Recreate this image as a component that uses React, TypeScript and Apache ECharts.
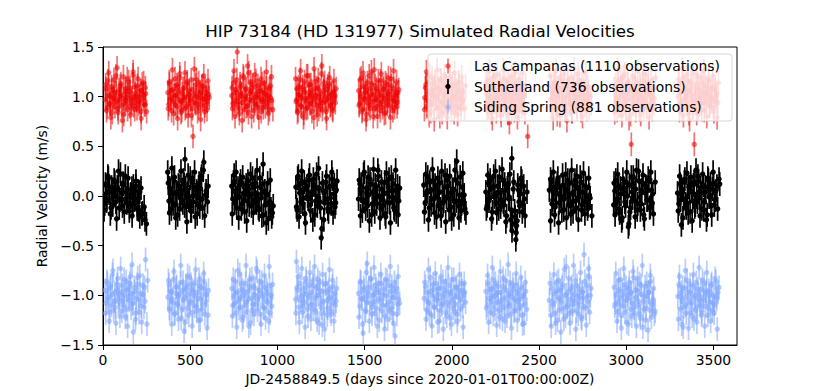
import React, { useEffect, useRef } from "react";
import * as echarts from "echarts";

// ---- data ----
const title = "HIP 73184 (HD 131977) Simulated Radial Velocities";
const xLabel = "JD-2458849.5 (days since 2020-01-01T00:00:00Z)";
const yLabel = "Radial Velocity (m/s)";
const xTicks = [0, 500, 1000, 1500, 2000, 2500, 3000, 3500];
const yTicks = [-1.5, -1.0, -0.5, 0.0, 0.5, 1.0, 1.5];
const seriesNames = [
  "Las Campanas (1110 observations)",
  "Sutherland (736 observations)",
  "Siding Spring (881 observations)",
];
// first day of each observing season (days)
const seasonStarts = [12, 370, 738, 1104, 1465, 1843, 2195, 2563, 2930, 3296];
// typical 1-sigma error bar of each site (m/s)
const siteErrors = [0.12, 0.12, 0.12];

// Las Campanas: day offset within season / velocity in cm/s (two batches)
const lcOffsets = [
  "1,5,13,17,26,29,37,41,50,53,62,65,73,80,83,91,95,104,107,116,119,127,131,140,143,151,158,161,170,173,182,185,194,197,206,209,218,221,230,233",
  "2,7,11,19,23,31,34,43,47,55,58,67,70,77,85,88,97,101,110,113,121,124,133,137,146,149,157,163,166,175,179,188,191,200,203,212,215,224,227,236",
  "0,4,10,15,22,27,32,39,44,49,56,61,68,72,79,86,90,97,103,108,114,120,127,132,139,144,150,157,162,169,174,180,186,193,198,205,210,216,223,229",
  "3,8,14,18,25,30,35,41,47,52,57,64,69,75,81,87,92,98,105,110,115,122,128,133,140,145,151,156,163,168,175,181,186,192,199,204,211,217,222,228",
  "1,6,12,16,23,28,34,40,45,51,58,62,69,74,80,85,92,96,103,109,114,121,126,131,138,143,150,155,161,167,172,179,185,190,197,202,208,215,221,226",
  "2,8,13,19,24,29,36,41,46,53,59,63,70,76,81,88,93,99,104,111,116,122,129,134,139,146,152,158,163,170,176,181,188,193,199,206,212,217,223,230",
  "0,5,11,17,22,28,33,40,46,50,57,63,67,74,79,86,91,97,102,108,115,119,126,132,137,144,149,155,161,166,173,178,185,190,196,203,208,214,221,240",
  "4,9,15,20,26,31,38,42,49,54,60,66,71,77,84,89,94,101,106,112,118,124,130,135,142,147,153,160,165,171,177,183,189,194,201,207,213,218,225,231",
  "1,7,12,18,25,30,36,43,47,53,59,65,72,76,83,88,95,99,104,109,116,121,127,134,138,145,151,156,163,169,174,181,186,192,198,205,210,217,222,228",
  "0,6,13,17,24,29,35,41,48,52,58,64,70,77,82,87,94,99,105,110,117,122,128,133,140,146,151,157,162,169,175,180,187,192,198,204,211,216,222,229",
];
const lcValues = [
  "97,108,89,116,101,93,110,84,99,104,121,95,88,107,100,113,91,98,82,105,96,118,102,90,109,94,99,125,87,103,96,111,92,100,85,106,98,114,92,103",
  "104,92,113,99,86,107,95,118,101,90,110,97,123,84,103,96,109,88,100,115,93,106,98,81,60,102,94,112,117,99,89,105,92,111,97,85,108,100,95,102",
  "101,88,114,96,107,92,145,99,83,110,103,94,119,87,100,108,91,124,97,105,80,112,98,93,116,102,89,106,99,85,113,95,104,90,109,97,101,87,111,96",
  "95,108,86,102,117,91,99,110,83,104,96,121,89,100,112,93,106,98,79,115,101,92,108,87,103,96,131,94,110,100,85,107,97,113,91,102,88,105,99,94",
  "106,93,100,119,87,110,97,104,82,114,99,91,108,125,95,102,88,111,97,80,105,93,116,101,89,107,98,84,112,96,103,91,118,99,86,108,95,101,90,104",
  "99,112,90,104,96,122,85,107,101,93,115,98,88,109,103,80,117,95,106,91,100,113,87,104,97,120,92,108,99,84,111,96,103,89,114,100,93,106,97,88",
  "103,94,117,89,108,99,84,111,96,121,102,90,106,97,114,86,100,109,92,118,98,105,83,113,95,101,88,110,97,124,91,104,99,87,112,95,106,93,101,60",
  "97,110,88,103,115,94,101,82,107,99,120,91,105,96,112,87,100,117,93,108,98,85,104,111,95,102,90,123,99,106,86,113,97,101,92,109,95,104,89,100",
  "108,95,101,86,116,99,91,110,104,120,93,100,88,113,97,106,82,52,109,95,102,118,90,105,98,87,111,100,94,123,96,107,89,103,114,92,101,97,108,93",
  "100,113,92,105,87,119,98,108,94,101,115,83,106,97,111,90,52,103,96,121,88,107,99,93,114,102,86,109,97,104,118,91,100,95,110,89,106,98,102,94",
];
const lcOffsetsB = [
  "3,8,15,21,27,33,39,45,51,57,64,69,75,81,87,93,99,105,112,117,123,129,135,141,147,153,160,165,171,177,183,189,196,201,207,213,219,225,231,238",
  "4,10,16,22,28,35,40,46,53,58,64,71,76,82,89,94,100,107,112,118,125,130,136,143,148,154,161,166,172,179,184,190,197,202,208,214,220,226,232,239",
  "2,7,13,19,25,30,37,43,48,55,60,66,73,78,84,91,96,102,109,114,120,127,132,138,145,150,156,163,168,174,181,186,192,199,204,210,216,222,228,236",
  "0,6,11,17,23,29,34,40,46,52,58,63,70,76,82,88,94,100,106,112,118,124,130,136,142,148,154,160,166,172,178,184,190,196,202,208,214,220,226,233",
  "3,9,14,20,26,32,38,43,49,55,61,67,72,78,84,90,95,101,107,113,119,125,131,136,142,148,154,160,166,171,177,183,189,195,201,206,212,218,224,231",
  "0,5,11,16,22,27,33,39,44,50,56,61,67,73,79,85,90,96,102,108,114,119,125,131,137,143,149,155,160,166,172,178,184,190,196,202,208,214,220,236",
  "2,8,14,20,25,31,37,43,48,54,60,65,71,77,83,88,94,100,105,111,117,123,129,135,140,146,152,158,164,170,175,181,187,193,199,205,211,217,224,230",
  "1,6,12,18,23,29,35,40,46,52,57,63,69,74,80,86,92,97,103,109,115,121,127,133,139,145,150,156,162,168,174,180,186,192,198,204,210,216,222,236",
  "4,10,15,21,28,33,39,45,50,56,62,68,74,80,86,91,101,107,113,118,124,130,136,141,147,153,159,165,171,177,183,189,195,201,207,213,219,225,231,238",
  "3,9,15,20,26,32,38,44,50,55,61,67,73,79,85,90,96,102,108,114,120,126,131,137,143,149,155,160,166,172,178,184,189,195,201,207,213,219,225,232",
];
const lcValuesB = [
  "112,86,101,124,93,79,107,98,117,90,104,129,84,96,111,102,76,120,93,108,99,87,115,105,82,97,122,91,110,100,88,118,95,106,78,113,102,92,109,85",
  "88,115,97,106,127,83,101,92,112,78,105,119,95,86,108,99,124,90,113,81,102,96,117,88,107,128,93,100,85,114,103,77,110,98,121,91,104,87,116,99",
  "109,93,126,80,104,117,95,88,113,101,76,121,98,107,90,131,84,103,115,96,109,86,122,100,92,111,79,105,118,97,89,114,102,125,94,83,108,99,120,87",
  "118,97,84,110,102,126,90,107,79,115,98,88,121,104,93,112,85,101,128,96,109,82,117,100,91,123,87,106,114,95,78,111,99,119,92,104,86,116,101,108",
  "91,117,103,85,124,98,110,77,106,94,121,88,102,113,80,127,97,108,90,116,101,86,123,95,109,83,114,100,92,119,105,79,111,96,126,89,103,115,94,107",
  "87,109,125,96,114,81,103,92,119,106,77,112,100,127,89,108,95,116,84,102,121,93,110,79,105,118,96,87,113,101,124,90,107,82,115,98,88,120,104,111",
  "114,88,101,126,93,109,78,118,97,105,85,122,100,91,112,81,107,127,95,103,89,116,99,74,110,120,94,106,86,113,101,79,117,96,108,90,124,102,84,111",
  "121,90,105,78,113,98,126,87,109,102,81,116,94,107,123,89,99,76,111,104,92,119,85,108,128,97,113,88,102,117,91,106,80,115,96,124,87,110,100,93",
  "84,112,97,127,90,105,118,81,109,96,123,88,103,115,78,107,99,121,92,111,86,104,126,95,113,82,100,117,89,106,122,93,110,79,102,116,87,108,98,119",
  "117,86,104,95,128,81,110,99,122,91,106,77,115,101,88,124,96,108,83,113,100,92,119,87,105,126,94,111,80,103,116,90,107,98,121,85,109,102,79,114",
];

// Sutherland
const suOffsets = [
  "-10,-2,5,10,19,25,34,40,47,56,62,70,77,85,94,100,107,116,122,129,139,145,154,160,169,176,184,192,199,211,224,237",
  "1,8,13,22,28,37,43,50,58,66,73,81,88,95,100,107,114,122,130,137,144,151,159,167,174,181,189,195,201,208,217,229",
  "0,6,14,21,29,36,44,51,59,68,74,83,89,97,104,113,119,128,134,141,149,157,165,173,180,186,194,202,210,218,225,233",
  "2,9,16,23,31,38,46,53,61,69,76,84,91,99,106,114,121,129,136,143,147,158,166,174,181,189,196,204,211,219,226,234",
  "0,8,14,22,29,38,45,51,59,66,75,83,89,96,104,111,119,128,134,141,150,156,164,171,179,188,194,203,210,216,224,231",
  "-4,4,12,19,27,35,42,50,58,65,73,80,88,96,103,111,118,126,134,141,149,156,164,172,179,185,194,202,209,217,224,232",
  "0,7,15,21,30,38,45,52,59,67,74,82,89,97,104,112,119,127,135,142,149,150,157,165,172,176,183,190,198,206,213,221",
  "-4,3,9,16,22,30,37,45,52,60,68,75,83,90,98,105,113,120,128,135,143,150,158,165,173,180,188,196,203,211,218,226",
  "-2,4,10,17,25,32,40,47,55,62,70,77,82,88,95,103,110,118,125,133,140,148,155,163,170,178,185,193,200,208,215,222",
  "-2,6,13,20,25,33,40,48,55,63,70,78,85,93,100,108,115,123,130,138,145,153,160,168,175,183,190,198,205,213,224,240",
];
const suValues = [
  "2,-8,11,-3,18,5,-12,7,-1,14,-6,9,25,-4,3,-10,12,20,-2,6,-15,1,8,-7,-3,10,-9,-14,4,-18,-11,-28",
  "24,-5,8,-13,2,15,-9,4,-19,10,-2,6,-7,12,37,-11,3,-4,18,-15,0,9,-21,5,-8,13,-3,20,-12,34,1,-6",
  "10,-3,21,5,-12,8,-1,15,-8,3,-16,11,-5,7,0,-10,18,-4,13,-7,2,-14,9,-20,32,4,-9,1,-23,-6,-13,-17",
  "9,-14,20,3,-6,13,-2,-18,7,0,16,-9,4,-24,11,-5,22,-1,8,-12,-42,5,-7,14,-3,-16,10,-8,17,2,-11,6",
  "-3,12,5,-15,22,-6,8,-10,1,17,-19,4,-2,11,-8,26,0,-13,7,-4,14,-21,3,9,-7,19,-1,-12,6,-16,10,-5",
  "11,-7,2,19,-12,6,-3,15,-17,8,0,-9,13,-20,4,-5,21,-1,10,-14,3,-23,7,-6,16,35,-10,1,-15,9,-4,-13",
  "4,-10,13,-2,8,-16,20,1,-7,10,-13,3,-4,16,-9,6,-20,12,-1,-24,38,-35,7,-15,-44,-30,11,-6,2,15,-8,-3",
  "6,-25,14,-4,9,-11,2,18,-7,0,-15,11,-2,22,5,-9,13,-18,3,-5,16,-12,8,-1,19,-14,4,-6,10,-3,-10,1",
  "-9,5,16,-3,10,-17,2,-22,8,-6,14,0,-31,11,-12,4,19,-5,7,-14,25,-1,-8,13,-19,3,9,-4,15,-11,6,2",
  "3,-8,12,-29,6,-3,17,-12,0,9,-16,5,-5,14,-9,2,20,-2,8,-13,11,-6,4,-19,16,1,-10,7,13,-4,10,12",
];
const suOffsetsB = [
  "-6,2,9,16,23,30,37,44,52,59,66,74,81,88,96,103,110,118,125,132,140,147,155,162,169,177,184,191,199,206,214,229",
  "4,11,17,25,32,40,47,54,62,69,77,84,91,98,104,111,118,126,133,141,148,155,163,170,178,185,192,199,205,213,221,233",
  "3,10,18,25,32,40,47,55,63,71,78,86,93,100,108,116,123,131,138,145,153,161,169,176,183,190,198,206,214,221,229,238",
  "5,12,20,27,35,42,50,57,65,72,80,87,95,102,110,117,125,132,139,151,154,162,170,178,185,193,200,208,215,222,230,238",
  "4,11,18,26,33,41,48,55,62,70,79,86,93,100,107,115,123,131,138,146,153,160,167,175,183,191,198,206,213,220,227,236",
  "0,8,15,23,31,38,46,54,61,69,77,84,92,99,107,114,122,130,137,145,152,160,168,175,182,190,198,205,213,220,228,238",
  "3,11,18,25,33,41,48,55,63,70,78,85,93,100,108,115,123,131,138,146,153,160,168,174,180,187,194,202,209,217,225,236",
  "3,11,19,26,34,41,49,56,64,72,79,87,94,102,109,117,124,132,139,147,154,162,169,177,184,192,200,207,215,222,230,240",
  "0,6,14,21,29,36,44,51,58,66,73,85,91,99,106,114,121,129,136,144,151,159,166,174,181,189,196,204,211,219,226,236",
  "2,10,16,22,29,37,44,52,59,67,74,82,89,97,104,112,119,127,134,142,149,157,164,172,179,187,194,202,209,217,228,236",
];
const suValuesB = [
  "-14,12,-5,20,3,-18,9,-9,16,0,-23,7,-12,22,-3,13,-16,4,-7,18,-11,2,-20,10,-4,15,-13,5,-21,8,-17,-24",
  "13,-17,6,28,-8,19,-22,3,11,-13,25,-4,16,-10,8,-26,21,-1,-15,14,-6,24,1,-18,9,-11,17,-3,26,-20,5,10",
  "-18,14,-7,24,0,-22,11,-13,19,-4,6,-25,15,-9,22,2,-17,9,-6,26,-12,18,-2,12,-19,5,-27,13,-8,16,-21,-10",
  "-11,18,-21,6,25,-8,14,-27,10,-3,21,-15,2,17,-19,8,-10,28,-6,-33,13,-24,4,20,-13,9,-2,24,-17,11,-7,15",
  "16,-20,9,-4,24,-13,3,19,-25,12,-8,27,-16,6,-1,20,-22,14,-10,2,-18,23,-6,17,-27,5,12,-14,26,-3,-19,8",
  "-16,22,5,-24,14,-9,27,-3,11,-21,18,4,-13,25,-7,9,-26,16,-2,20,-11,6,-19,26,-5,13,-22,19,-8,23,1,-17",
  "-13,21,-5,16,-23,9,-1,25,-17,4,19,-11,27,-6,12,-26,8,-3,22,-14,-28,14,-21,-37,-25,6,-10,18,-16,10,-20,4",
  "17,-8,24,-19,5,13,-27,9,-3,21,-14,7,-22,16,1,-10,26,-16,11,-5,20,-24,3,14,-9,23,-18,8,-13,18,-2,-20",
  "13,-19,-6,22,-13,8,-25,17,3,-10,24,-28,-16,19,-2,12,-21,26,-8,15,-14,6,21,-23,10,-4,18,-12,24,-7,-18,14",
  "-15,20,-4,7,-22,14,-8,23,-17,4,19,-25,11,-11,26,-6,15,-20,3,22,-14,9,-24,18,-1,12,-19,24,-9,5,-13,17",
];

// Siding Spring
const ssOffsets = [
  "0,6,14,19,27,32,41,45,54,58,67,72,80,85,93,98,107,111,120,124,133,138,146,151,157,162,170,177,184,192,199,207,215,226,232,240",
  "2,8,12,21,25,34,39,47,52,60,65,74,78,87,91,95,105,113,118,126,131,140,144,153,157,166,171,179,184,190,197,206,210,219,223,232",
  "1,6,13,20,25,33,38,46,51,58,66,71,80,85,93,98,104,113,118,125,131,137,146,150,159,164,173,177,186,190,199,203,212,217,225,230",
  "0,5,12,19,27,34,39,47,52,60,65,72,80,86,91,100,105,113,120,124,133,138,145,153,157,164,171,180,184,192,196,205,211,217,225,232",
  "0,7,14,20,27,33,41,45,50,59,66,73,78,87,92,98,105,113,119,126,131,140,146,151,159,164,172,179,186,191,197,203,209,218,224,230",
  "-2,6,13,21,26,33,40,47,53,58,67,73,79,85,93,98,106,111,120,125,132,138,146,152,157,165,172,177,185,190,198,204,212,219,225,231",
  "0,7,12,20,27,34,39,46,52,59,67,72,80,86,91,99,105,110,118,126,131,139,144,151,158,166,171,178,184,192,197,205,211,217,224,229",
  "-4,4,11,18,26,32,40,45,54,59,66,72,79,86,93,98,105,112,118,126,131,139,145,152,158,166,171,179,184,190,195,205,210,219,224,231",
  "1,7,13,21,26,34,39,47,53,60,66,73,80,85,93,99,106,112,119,124,133,138,146,151,158,165,171,178,184,192,198,205,210,218,224,231",
  "0,6,14,19,25,30,40,45,53,58,67,72,79,86,92,99,106,111,119,125,132,138,145,151,159,163,172,177,185,191,197,205,210,218,223,230",
];
const ssValues = [
  "-95,-108,-88,-102,-117,-91,-99,-75,-106,-112,-94,-83,-103,-121,-97,-90,-110,-100,-86,-114,-93,-105,-81,-98,-109,-137,-96,-118,-89,-104,-80,-111,-99,-92,-64,-129",
  "-102,-89,-115,-96,-107,-84,-119,-98,-92,-110,-101,-87,-123,-95,-105,-136,-91,-113,-99,-82,-108,-94,-117,-100,-88,-111,-97,-125,-90,-104,-114,-93,-86,-106,-99,-120",
  "-93,-110,-101,-86,-118,-97,-105,-79,-112,-94,-122,-100,-88,-107,-96,-131,-84,-103,-115,-91,-99,-109,-76,-104,-95,-119,-87,-101,-113,-92,-106,-98,-126,-90,-103,-111",
  "-104,-66,-95,-112,-88,-101,-117,-93,-107,-83,-99,-121,-90,-110,-97,-85,-114,-103,-92,-125,-100,-87,-109,-130,-96,-118,-89,-105,-113,-94,-102,-119,-91,-108,-98,-106",
  "-98,-111,-87,-104,-138,-95,-116,-101,-68,-92,-108,-84,-119,-99,-106,-90,-113,-97,-125,-103,-88,-110,-94,-121,-100,-85,-107,-115,-96,-91,-118,-102,-141,-93,-109,-104",
  "-103,-91,-115,-97,-108,-82,-120,-100,-94,-112,-88,-105,-99,-126,-93,-110,-86,-102,-117,-95,-107,-90,-123,-98,-84,-113,-101,-109,-92,-119,-96,-104,-88,-111,-100,-97",
  "-96,-110,-88,-103,-117,-93,-101,-85,-114,-99,-107,-91,-122,-97,-105,-83,-112,-126,-95,-108,-100,-87,-119,-102,-94,-115,-90,-106,-98,-113,-104,-92,-129,-101,-109,-96",
  "-105,-120,-93,-110,-98,-128,-87,-102,-115,-95,-107,-89,-124,-100,-71,-112,-96,-118,-104,-91,-109,-99,-85,-116,-101,-108,-94,-122,-97,-103,-59,-113,-90,-106,-81,-100",
  "-92,-108,-99,-116,-85,-103,-120,-96,-111,-89,-105,-127,-100,-93,-114,-97,-108,-82,-118,-102,-95,-110,-88,-123,-99,-132,-106,-91,-113,-101,-97,-115,-86,-109,-104,-119",
  "-101,-89,-114,-97,-106,-132,-93,-110,-85,-103,-118,-96,-108,-91,-124,-100,-87,-112,-99,-105,-94,-117,-102,-88,-111,-98,-120,-95,-107,-90,-115,-101,-109,-86,-104,-97",
];
const ssOffsetsB = [
  "3,10,16,23,29,36,42,49,56,62,69,76,82,89,96,102,109,116,122,129,135,142,149,155,160,167,174,180,187,195,202,210,218,223,229,244",
  "5,11,18,24,30,37,43,50,56,63,69,76,83,89,98,102,108,115,122,128,135,141,148,155,161,168,174,181,187,193,200,207,214,221,227,235",
  "4,9,16,22,29,35,42,49,55,61,68,75,82,88,95,101,108,115,121,128,134,141,148,153,161,168,175,181,188,194,201,208,215,220,227,234",
  "2,8,15,22,30,36,43,49,55,62,68,75,82,88,95,102,109,116,122,128,135,141,148,155,160,167,174,182,187,194,199,207,213,220,228,236",
  "3,10,17,23,30,36,44,48,54,62,69,75,81,89,95,101,108,116,122,128,134,142,149,155,161,167,175,182,188,194,200,206,213,220,227,236",
  "1,9,16,23,29,36,43,50,56,62,70,76,82,89,95,101,108,114,122,128,135,141,149,155,160,168,175,180,188,194,201,207,215,222,228,236",
  "3,10,16,23,30,37,42,49,55,62,70,75,83,88,95,102,108,114,121,128,134,142,147,154,161,168,174,181,187,194,200,208,214,220,226,235",
  "0,7,14,22,29,35,43,49,57,62,69,75,82,89,95,101,108,115,121,128,135,142,148,155,162,169,175,182,187,193,200,208,213,221,227,236",
  "4,10,17,24,30,37,42,50,56,63,69,76,83,88,96,102,109,115,122,128,135,141,149,154,162,168,174,181,188,195,201,208,214,221,227,236",
  "3,9,17,22,28,34,43,48,56,61,70,75,82,89,95,102,109,114,122,128,135,141,148,154,162,166,175,180,188,194,200,208,213,221,226,236",
];
const ssValuesB = [
  "-118,-86,-104,-126,-93,-110,-79,-115,-97,-128,-89,-107,-99,-73,-116,-105,-84,-122,-95,-131,-101,-88,-113,-69,-108,-92,-124,-103,-82,-117,-98,-127,-90,-112,-106,-85",
  "-85,-113,-97,-129,-104,-76,-118,-91,-108,-124,-99,-70,-114,-87,-102,-127,-94,-80,-120,-106,-89,-131,-96,-111,-74,-116,-103,-84,-125,-92,-109,-78,-119,-100,-133,-95",
  "-121,-84,-108,-97,-132,-75,-113,-102,-88,-125,-96,-110,-70,-117,-104,-91,-128,-83,-109,-119,-93,-73,-115,-101,-86,-129,-98,-112,-80,-123,-94,-107,-71,-118,-100,-89",
  "-118,-92,-81,-127,-105,-73,-111,-98,-132,-86,-114,-102,-77,-124,-109,-90,-71,-117,-100,-84,-128,-95,-113,-79,-106,-134,-88,-120,-97,-74,-116,-103,-85,-126,-110,-93",
  "-122,-86,-103,-129,-92,-115,-77,-107,-97,-126,-83,-112,-100,-72,-118,-94,-131,-88,-105,-79,-116,-99,-134,-84,-110,-124,-90,-71,-113,-102,-128,-87,-96,-119,-81,-108",
  "-87,-124,-106,-74,-118,-96,-131,-89,-112,-78,-103,-127,-93,-115,-81,-108,-134,-99,-86,-121,-72,-110,-97,-129,-105,-84,-117,-92,-126,-101,-79,-114,-95,-132,-88,-107",
  "-113,-80,-127,-94,-106,-72,-119,-101,-88,-130,-97,-115,-76,-109,-124,-91,-103,-85,-121,-69,-111,-98,-133,-89,-116,-104,-78,-125,-95,-110,-82,-120,-100,-128,-87,-114",
  "-88,-131,-107,-79,-118,-96,-125,-85,-104,-137,-92,-113,-74,-121,-99,-110,-83,-128,-94,-116,-70,-105,-134,-90,-119,-102,-77,-124,-97,-111,-86,-130,-101,-73,-117,-93",
  "-111,-78,-126,-95,-108,-84,-133,-100,-73,-117,-92,-104,-129,-87,-98,-121,-76,-113,-95,-131,-83,-106,-119,-90,-70,-114,-101,-125,-88,-135,-97,-80,-122,-107,-93,-116",
  "-124,-81,-102,-129,-92,-112,-75,-118,-98,-133,-89,-107,-121,-79,-103,-115,-127,-94,-72,-110,-120,-85,-105,-131,-96,-77,-113,-100,-126,-88,-108,-118,-83,-101,-134,-92",
];

// ---- helpers ----
function buildPoints(offsets: string[], values: string[], err: number): number[][] {
  const pts: number[][] = [];
  offsets.forEach((s, k) => {
    const o = s.split(",").map(Number);
    const v = values[k].split(",").map(Number);
    const n = Math.min(o.length, v.length);
    for (let i = 0; i < n; i++) pts.push([seasonStarts[k] + o[i], v[i] / 100, err]);
  });
  return pts;
}

const FONT = "DejaVu Sans";
const COLORS = ["#ee0000", "#000000", "#7fa6ff"];
const ALPHAS = [0.55, 1, 0.55];

function errSeries(name: string, data: number[][], color: string, alpha: number) {
  return {
    type: "custom",
    name,
    clip: true,
    data,
    renderItem: (params: any, api: any) => {
      const x = api.value(0);
      const y = api.value(1);
      const e = api.value(2);
      const p = api.coord([x, y]);
      const t = api.coord([x, y + e]);
      const b = api.coord([x, y - e]);
      return {
        type: "group",
        children: [
          {
            type: "line",
            shape: { x1: p[0], y1: t[1], x2: p[0], y2: b[1] },
            style: { stroke: color, lineWidth: 1.7, opacity: alpha },
          },
          {
            type: "circle",
            shape: { cx: p[0], cy: p[1], r: 2.7 },
            style: { fill: color, opacity: alpha },
          },
        ],
      };
    },
  };
}

export default function App() {
  const ref = useRef<HTMLDivElement>(null);
  useEffect(() => {
    if (!ref.current) return;
    const chart = echarts.init(ref.current, null, { renderer: "svg" });
    const lc = buildPoints(lcOffsets, lcValues, siteErrors[0]).concat(
      buildPoints(lcOffsetsB, lcValuesB, siteErrors[0])
    );
    const su = buildPoints(suOffsets, suValues, siteErrors[1]).concat(
      buildPoints(suOffsetsB, suValuesB, siteErrors[1])
    );
    const ss = buildPoints(ssOffsets, ssValues, siteErrors[2]).concat(
      buildPoints(ssOffsetsB, ssValuesB, siteErrors[2])
    );

    const gridL = 103, gridT = 47, gridW = 634, gridH = 300;
    const legX = 428, legY = 54, legW = 304, legH = 67;
    const rows = [66, 86.5, 107];
    const Z = 100;
    const graphics: any[] = [
      {
        type: "text",
        z: Z,
        x: gridL + gridW / 2,
        y: 31,
        style: {
          text: title,
          font: `16.7px '${FONT}'`,
          fill: "#000",
          textAlign: "center",
          textVerticalAlign: "middle",
        },
      },
      {
        type: "rect",
        z: Z,
        shape: { x: legX, y: legY, width: legW, height: legH, r: 3 },
        style: { fill: "rgba(255,255,255,0.8)", stroke: "rgba(204,204,204,0.8)", lineWidth: 1 },
      },
    ];
    rows.forEach((ry, i) => {
      graphics.push(
        {
          type: "line",
          z: Z + 1,
          shape: { x1: 448, y1: ry - 7.5, x2: 448, y2: ry + 7.5 },
          style: { stroke: COLORS[i], lineWidth: 1.7, opacity: ALPHAS[i] },
        },
        {
          type: "circle",
          z: Z + 1,
          shape: { cx: 448, cy: ry, r: 2.7 },
          style: { fill: COLORS[i], opacity: ALPHAS[i] },
        },
        {
          type: "text",
          z: Z + 1,
          x: 474,
          y: ry,
          style: {
            text: seriesNames[i],
            font: `13.9px '${FONT}'`,
            fill: "#000",
            textVerticalAlign: "middle",
            textAlign: "left",
          },
        }
      );
    });

    chart.setOption({
      animation: false,
      backgroundColor: "#ffffff",
      grid: {
        left: gridL,
        top: gridT,
        width: gridW,
        height: gridH,
        show: true,
        borderColor: "#000",
        borderWidth: 1,
        backgroundColor: "transparent",
      },
      xAxis: {
        type: "value",
        min: 0,
        max: 3635,
        name: xLabel,
        nameLocation: "middle",
        nameGap: 27,
        nameTextStyle: { fontFamily: FONT, fontSize: 13.9, color: "#000" },
        axisLine: { show: true, onZero: false, lineStyle: { color: "#000", width: 1 } },
        axisTick: { show: true, length: 5, customValues: xTicks, lineStyle: { color: "#000" } },
        axisLabel: {
          customValues: xTicks,
          margin: 8,
          fontFamily: FONT,
          fontSize: 13.9,
          color: "#000",
          formatter: (v: number) => String(v),
        },
        splitLine: { show: false },
      },
      yAxis: {
        type: "value",
        min: -1.5,
        max: 1.5,
        interval: 0.5,
        name: yLabel,
        nameLocation: "middle",
        nameGap: 46,
        nameRotate: 90,
        nameTextStyle: { fontFamily: FONT, fontSize: 13.9, color: "#000" },
        axisLine: { show: true, onZero: false, lineStyle: { color: "#000", width: 1 } },
        axisTick: { show: true, length: 5, customValues: yTicks, lineStyle: { color: "#000" } },
        axisLabel: {
          customValues: yTicks,
          margin: 9,
          fontFamily: FONT,
          fontSize: 13.9,
          color: "#000",
          formatter: (v: number) => v.toFixed(1).replace("-", "\u2212"),
        },
        splitLine: { show: false },
      },
      graphic: graphics,
      series: [
        errSeries(seriesNames[0], lc, COLORS[0], ALPHAS[0]),
        errSeries(seriesNames[1], su, COLORS[1], ALPHAS[1]),
        errSeries(seriesNames[2], ss, COLORS[2], ALPHAS[2]),
      ],
    });
    return () => chart.dispose();
  }, []);
  return (
    <div
      ref={ref}
      style={{ position: "fixed", left: 0, top: 0, width: 822, height: 391, background: "#fff" }}
    />
  );
}
